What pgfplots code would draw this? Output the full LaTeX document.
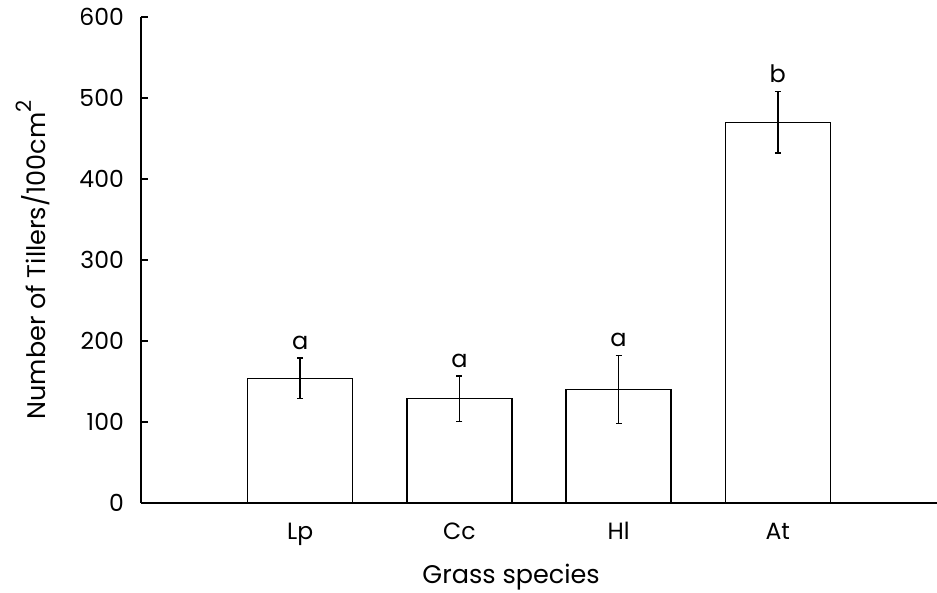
\documentclass[border=0pt]{standalone}
\usepackage{pgfplots}
\pgfplotsset{compat=1.18}
\usepackage{fontspec}
\setmainfont{Poppins}
\begin{document}
\begin{tikzpicture}
\begin{axis}[
  scale only axis,
  width=796pt, height=486pt,
  xmin=0, xmax=5, ymin=0, ymax=600,
  axis x line=bottom, axis y line=left,
  axis line style={-, line width=1.6pt},
  tick align=inside,
  major tick length=7pt,
  tick style={line width=1.4pt, black},
  ytick={0,100,200,300,400,500,600},
  xtick={1,2,3,4},
  xticklabels={Lp,Cc,Hl,At},
  /pgf/number format/assume math mode=true,
  ticklabel style={font=\fontsize{23.5}{26}\selectfont},
  yticklabel style={anchor=east, inner sep=0pt, xshift=-17pt},
  xticklabel style={anchor=base, inner sep=0pt, yshift=-36pt},
  label style={font=\fontsize{25.5}{28}\selectfont},
  xlabel={Grass species},
  xlabel style={at={(axis description cs:0.465,-0.1646)}, anchor=base},
  ylabel={Number of Tillers/100cm\raisebox{0.55em}{\fontsize{21}{24}\selectfont 2}},
  ylabel style={at={(axis description cs:-0.1357,0.5)}, anchor=center},
  clip=false,
]
\addplot[ybar, bar width=0.66, fill=white, draw=black, line width=1.5pt,
  error bars/.cd, y dir=both, y explicit,
  error bar style={line width=1.4pt, black},
  error mark options={rotate=90, mark size=3pt, line width=1.4pt, black}]
coordinates {
  (1,154) +- (0,25)
  (2,129) +- (0,28)
  (3,140) +- (0,42)
  (4,470) +- (0,38)
};
\node[anchor=south, font=\fontsize{24}{26}\selectfont, yshift=5pt] at (axis cs:1,179) {a};
\node[anchor=south, font=\fontsize{24}{26}\selectfont, yshift=5pt] at (axis cs:2,157) {a};
\node[anchor=south, font=\fontsize{24}{26}\selectfont, yshift=5pt] at (axis cs:3,182) {a};
\node[anchor=south, font=\fontsize{24}{26}\selectfont, yshift=5pt] at (axis cs:4,508) {b};
\coordinate (bl) at (rel axis cs:-0.1771,-0.1831);
\coordinate (tr) at (rel axis cs:1,1.035);
\end{axis}
\pgfresetboundingbox
\path[use as bounding box] (bl) rectangle (tr);
\end{tikzpicture}
\end{document}
